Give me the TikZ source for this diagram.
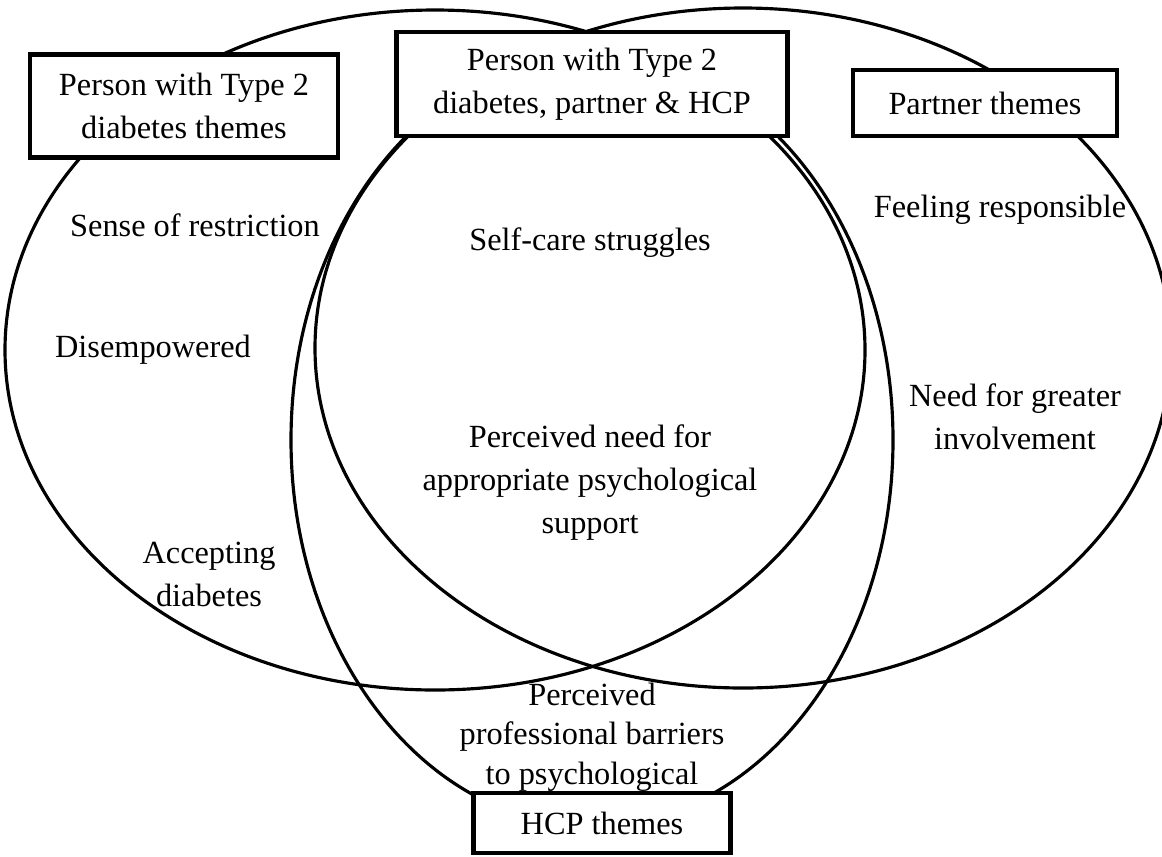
\documentclass[tikz,border=0pt]{standalone}
\usepackage{fontspec}
\setmainfont{Liberation Serif}
\usetikzlibrary{positioning}

\begin{document}
\begin{tikzpicture}[x=0.02cm, y=-0.02cm, font=\fontsize{18.4}{24.5}\selectfont]
        \useasboundingbox (0, 0) rectangle (1162, 856);

        % centres of the three sets
        \coordinate (P) at (435, 350);
        \coordinate (Q) at (743, 348);
        \coordinate (H) at (592, 440);

        \tikzstyle{set} = [draw, line width=1.8pt];
        \draw [set] (P) ellipse [x radius=430, y radius=340];
        \draw [set] (Q) ellipse [x radius=428, y radius=340];
        \draw [set] (H) ellipse [x radius=301, y radius=386];

        \tikzstyle{title} = [draw, line width=2.7pt, fill=white, align=center, inner sep=0pt];
        \node [title, minimum width=6.16cm, minimum height=2.06cm] (Pbox) at (184, 106)
            {Person with Type 2\\diabetes themes};
        \node [title, minimum width=7.82cm, minimum height=2.08cm] (Cbox) at (592, 84)
            {Person with Type 2\\diabetes, partner \& HCP};
        \node [title, minimum width=5.28cm, minimum height=1.32cm] (Qbox) at (985, 103)
            {Partner themes};
        \node [title, minimum width=5.14cm, minimum height=1.2cm] (Hbox) at (602, 823)
            {HCP themes};

        \tikzstyle{theme} = [align=center, inner sep=0pt];
        \node [theme] (restrict) at (195, 225) {Sense of restriction};
        \node [theme] (disemp)   at (153, 350) {Disempowered};
        \node [theme] (accept)   at (209, 574) {Accepting\\diabetes};
        \node [theme] (selfcare) at (590, 243) {Self-care struggles};
        \node [theme] (need)     at (590, 483) {Perceived need for\\appropriate psychological\\support};
        \node [theme] (resp)     at (1000, 210) {Feeling responsible};
        \node [theme] (involve)  at (1015, 417) {Need for greater\\involvement};
        \node [theme, font=\fontsize{18.4}{22.6}\selectfont] (barrier) at (592, 737)
            {Perceived\\professional barriers\\to psychological};
    \end{tikzpicture}
\end{document}
